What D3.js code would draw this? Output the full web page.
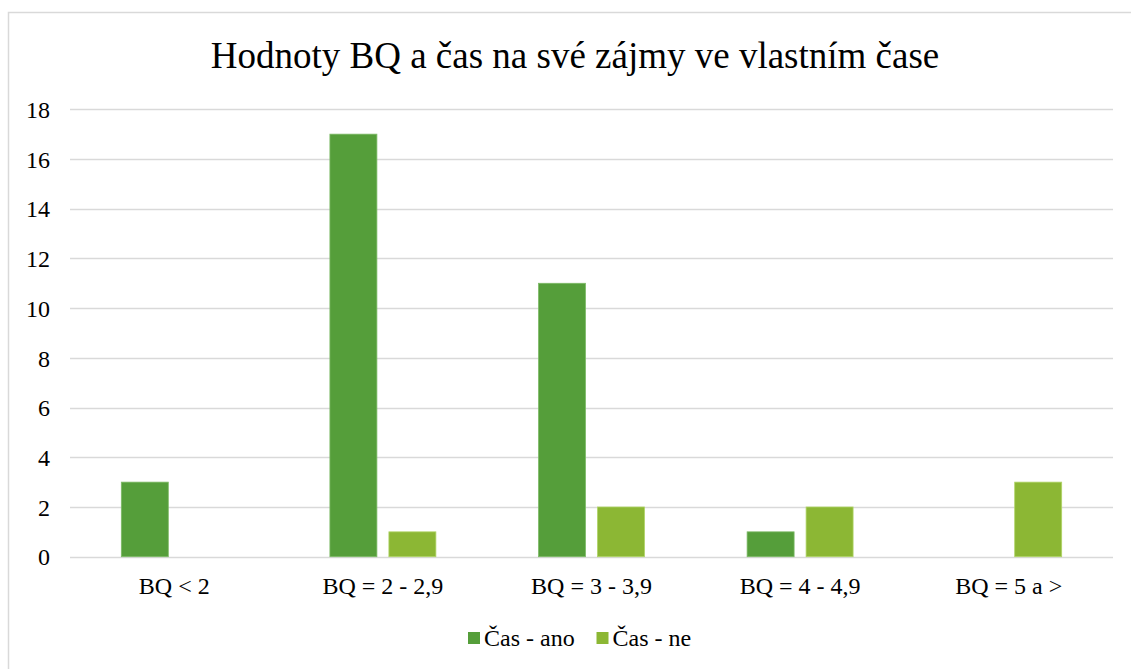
<!DOCTYPE html>
<html><head><meta charset="utf-8">
<script src="https://cdn.jsdelivr.net/npm/d3@7"></script>
</head><body style="margin:0;background:#fff">
<svg id="c" width="1131" height="669" style="display:block;font-family:'Liberation Serif','Times New Roman',Tinos,serif"></svg>
<script>
const categories = ["BQ < 2", "BQ = 2 - 2,9", "BQ = 3 - 3,9", "BQ = 4 - 4,9", "BQ = 5 a >"];
const seriesNames = ["Čas - ano", "Čas - ne"];
const casAno = [3, 17, 11, 1, 0];
const casNe = [0, 1, 2, 2, 3];
const yTicks = [0, 2, 4, 6, 8, 10, 12, 14, 16, 18];
const colors = ["#559E3A", "#8CB734"];
const title = "Hodnoty BQ a čas na své zájmy ve vlastním čase";
const FONT = "'Liberation Serif', 'Times New Roman', Tinos, serif";

const svg = d3.select("#c");
svg.append("rect").attr("x", 8.5).attr("y", 12.5).attr("width", 1300).attr("height", 800)
  .attr("fill", "#fff").attr("stroke", "#d9d9d9").attr("stroke-width", 1.5);

const L = 70, R = 1113, T = 109.3, B = 556.7;
const x0 = d3.scaleBand().domain(categories).range([L, R]).paddingInner(0.492).paddingOuter(0.246);
const x1 = d3.scaleBand().domain(seriesNames).range([0, x0.bandwidth()]).paddingInner(0.2034);
const y = d3.scaleLinear().domain([0, 18]).range([B, T]);

svg.append("text").attr("x", 575).attr("y", 68).attr("text-anchor", "middle")
  .style("font-family", FONT).style("font-size", "37px").attr("fill", "#000").text(title);

const grid = svg.append("g");
grid.selectAll("line").data(yTicks).join("line")
  .attr("x1", L).attr("x2", R).attr("y1", d => Math.round(y(d)) + 0.5).attr("y2", d => Math.round(y(d)) + 0.5)
  .attr("stroke", "#d9d9d9").attr("stroke-width", 1.3);

const yAxis = svg.append("g").attr("transform", `translate(${L},0)`)
  .call(d3.axisLeft(y).tickValues(yTicks).tickSize(0).tickPadding(20));
yAxis.select(".domain").remove();
yAxis.selectAll("text").style("font-family", FONT).style("font-size", "24px").attr("fill", "#000").attr("dy", "0.34em");

const data = categories.map((c, i) => ({c, vals: [casAno[i], casNe[i]]}));
const g = svg.append("g");
data.forEach(d => {
  d.vals.forEach((v, j) => {
    if (v <= 0) return;
    g.append("rect")
      .attr("x", x0(d.c) + x1(seriesNames[j]))
      .attr("y", y(v))
      .attr("width", x1.bandwidth())
      .attr("height", y(0) - y(v))
      .attr("fill", colors[j])
      .attr("stroke", j === 0 ? "#7dba66" : "#b0d467").attr("stroke-width", 0.8);
  });
});

const xAxis = svg.append("g").attr("transform", `translate(0,${B})`)
  .call(d3.axisBottom(x0).tickSize(0).tickPadding(20));
xAxis.select(".domain").remove();
xAxis.selectAll("text").style("font-family", FONT).style("font-size", "24px").attr("fill", "#000");

const leg = svg.append("g");
const legX = [468, 596.5];
seriesNames.forEach((s, j) => {
  leg.append("rect").attr("x", legX[j]).attr("y", 632).attr("width", 12).attr("height", 12).attr("fill", colors[j]);
  leg.append("text").attr("x", legX[j] + 16).attr("y", 646).style("font-family", FONT).style("font-size", "24px").attr("fill", "#000").text(s);
});
</script>
</body></html>
